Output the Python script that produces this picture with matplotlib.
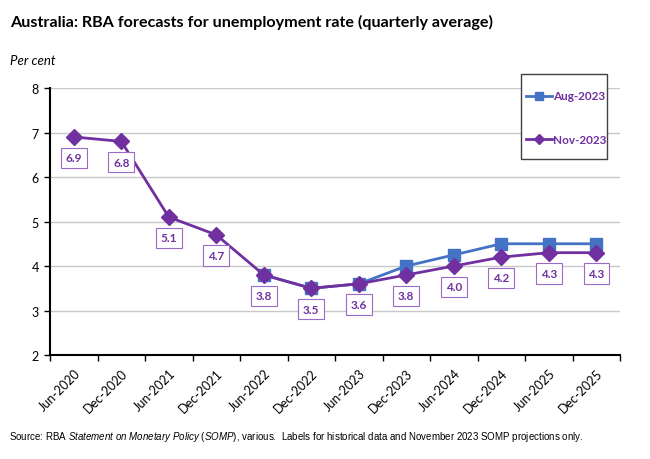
import numpy as np
import matplotlib.pyplot as plt
from matplotlib.lines import Line2D
from matplotlib.patches import Rectangle

plt.rcParams["font.family"] = ["Lato", "DejaVu Sans"]
plt.rcParams["mathtext.fontset"] = "custom"
plt.rcParams["mathtext.rm"] = "Liberation Sans"
plt.rcParams["mathtext.it"] = "Liberation Sans:italic"

periods = ["Jun-2020", "Dec-2020", "Jun-2021", "Dec-2021", "Jun-2022", "Dec-2022",
           "Jun-2023", "Dec-2023", "Jun-2024", "Dec-2024", "Jun-2025", "Dec-2025"]
nov_2023 = [6.9, 6.8, 5.1, 4.7, 3.8, 3.5, 3.6, 3.8, 4.0, 4.2, 4.3, 4.3]
aug_2023 = [None, None, None, None, 3.8, 3.5, 3.6, 4.0, 4.25, 4.5, 4.5, 4.5]
series_names = ["Aug-2023", "Nov-2023"]

blue = "#4472C4"
purple = "#7030A0"

W, H = 650, 460
fig = plt.figure(figsize=(6.5, 4.6), dpi=100)
ax = fig.add_axes([0.077, 0.226, 0.877, 0.5805])

x = np.arange(len(periods))
aug = np.array([np.nan if v is None else v for v in aug_2023])

ax.plot(x, aug, color=blue, linewidth=2, marker="s", markersize=9,
        markerfacecolor=blue, markeredgecolor=blue, zorder=3)
ax.plot(x, nov_2023, color=purple, linewidth=2, marker="D", markersize=8,
        markerfacecolor=purple, markeredgecolor=purple, zorder=4)

for xi, v in zip(x, nov_2023):
    ax.annotate(f"{v:.1f}", (xi, v), xytext=(0, -15), textcoords="offset points",
                ha="center", va="center", fontsize=8.5, fontweight="bold", color=purple,
                bbox=dict(boxstyle="square,pad=0.4", facecolor="white",
                          edgecolor="#9A6BC4", linewidth=0.8), zorder=5)

ax.set_xlim(-0.5, len(periods) - 0.5)
ax.set_ylim(2, 8)
ax.set_yticks(range(2, 9))
ax.tick_params(axis="y", direction="out", length=4, width=1, labelsize=9, pad=4)
ax.yaxis.grid(True, color="#C8C8C8", linewidth=1)
ax.set_axisbelow(True)

ax.set_xticks(x)
ax.set_xticklabels(periods, rotation=45, ha="right", rotation_mode="anchor", fontsize=9)
ax.tick_params(axis="x", length=0, pad=8)
ax.set_xticks(np.arange(-0.5, len(periods)), minor=True)
ax.tick_params(axis="x", which="minor", direction="out", length=4, width=1)

for s in ["top", "right"]:
    ax.spines[s].set_visible(False)
ax.spines["left"].set_linewidth(1.5)
ax.spines["bottom"].set_linewidth(1.5)

# legend box drawn by hand in figure pixels
def fx(px):
    return px / W

def fy(py):
    return 1 - py / H

fig.patches.append(Rectangle((fx(521), fy(160)), fx(86), 85 / H, transform=fig.transFigure,
                             facecolor="white", edgecolor="#404040", linewidth=1, zorder=6))
for name, col, mk, ms, yy in [(series_names[0], blue, "s", 6, 97),
                              (series_names[1], purple, "D", 5, 140)]:
    fig.lines.append(Line2D([fx(526), fx(552)], [fy(yy), fy(yy)], transform=fig.transFigure,
                            color=col, linewidth=2, zorder=7))
    fig.lines.append(Line2D([fx(539)], [fy(yy)], transform=fig.transFigure, color=col,
                            marker=mk, markersize=ms, zorder=7))
    fig.text(fx(553), fy(yy), name, fontsize=8.5, fontweight="bold", color=purple,
             va="center", ha="left", zorder=7)

fig.text(10 / W, 1 - 22 / H, "Australia: RBA forecasts for unemployment rate (quarterly average)",
         fontsize=11.6, fontweight="bold", va="center", ha="left")
fig.text(10 / W, 1 - 61 / H, "Per cent", fontsize=9.5, fontstyle="italic",
         va="center", ha="left")
fig.text(9 / W, 1 - 437 / H,
         "Source: RBA $\\it{Statement\\ on\\ Monetary\\ Policy}$ ($\\it{SOMP}$), various.  "
         "Labels for historical data and November 2023 SOMP projections only.",
         fontsize=7, family="Liberation Sans", va="center", ha="left")

fig.savefig("out.png", dpi=100)
